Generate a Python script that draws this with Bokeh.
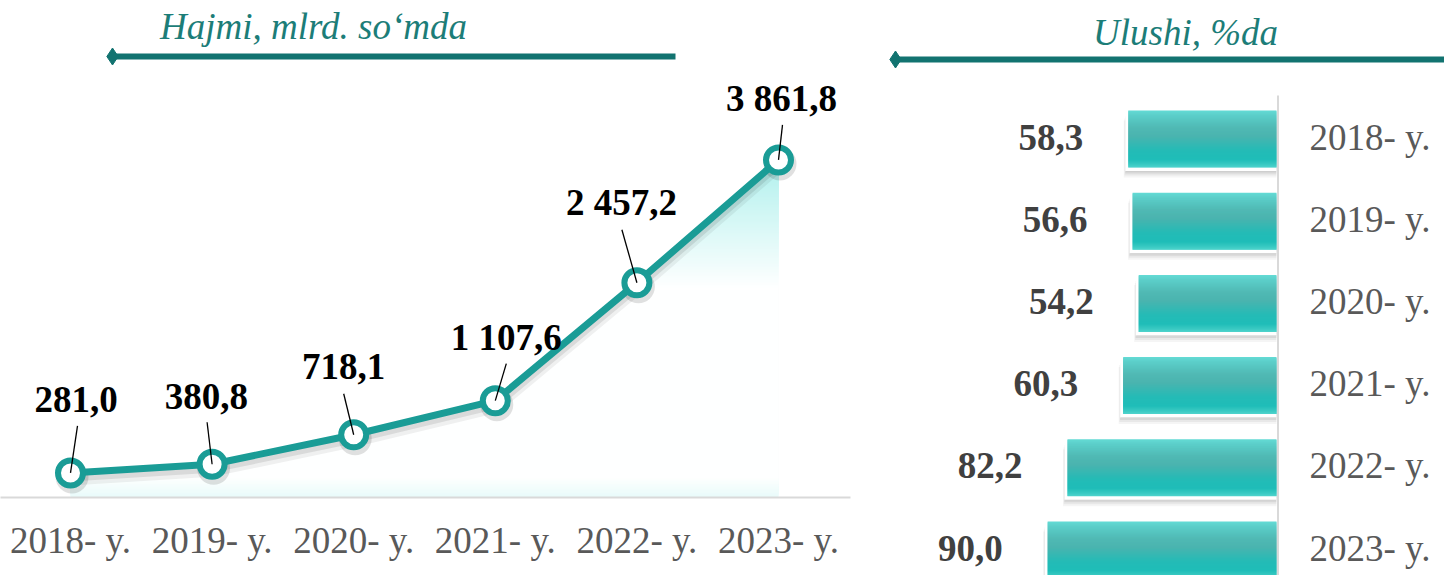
import numpy as np
from bokeh.plotting import figure
from bokeh.layouts import row
from bokeh.models import Range1d, FixedTicker
from bokeh.core.properties import value
from bokeh.embed import file_html
from bokeh.resources import INLINE

# ---------------- data ----------------
years = ["2018- y.", "2019- y.", "2020- y.", "2021- y.", "2022- y.", "2023- y."]
volume = [281.0, 380.8, 718.1, 1107.6, 2457.2, 3861.8]      # Hajmi, mlrd. so'mda
share = [58.3, 56.6, 54.2, 60.3, 82.2, 90.0]                 # Ulushi, %da
title_left = "Hajmi, mlrd. so‘mda"
title_right = "Ulushi, %da"


def fmt(v):
    return f"{v:,.1f}".replace(",", " ").replace(".", ",")


volume_labels = [fmt(v) for v in volume]
share_labels = [fmt(v) for v in share]

# ---------------- style ----------------
FONT = "Liberation Serif"
FS = "37px"
TEAL = "#1a9c96"
HEAD = "#127370"
HEAD_TXT = "#1c7d78"
TXT_UP = 14          # empirical baseline correction (px)

H = 575
# left chart geometry (px)
LW, L_FRAME_W, L_FRAME_H = 880, 850, 497
XPX = 141.6                     # px per category
YUP = 3580.8 / 313.0            # value units per px
x0 = -70.0 / XPX
xs = np.arange(len(years), dtype=float)
vol = np.array(volume)


def lx(px):   # page x -> data x (left chart)
    return x0 + px / XPX


def ly(py):   # page y -> data y (left chart)
    return (L_FRAME_H - py) * YUP


def hex2rgb(h):
    return np.array([int(h[i:i + 2], 16) for i in (1, 3, 5)], dtype=float)


def rgb2hex(c):
    return "#%02x%02x%02x" % tuple(int(round(v)) for v in c)


p = figure(width=LW, height=H, output_backend="svg", toolbar_location=None,
           x_range=Range1d(x0, x0 + L_FRAME_W / XPX),
           y_range=Range1d(0, L_FRAME_H * YUP),
           y_axis_location=None,
           min_border_left=0, min_border_right=LW - L_FRAME_W,
           min_border_top=0, min_border_bottom=H - L_FRAME_H)
p.outline_line_color = None
p.grid.visible = False
p.background_fill_color = "white"
p.border_fill_color = "white"

ax = p.xaxis[0]
ax.ticker = FixedTicker(ticks=list(range(len(years))))
ax.major_label_overrides = {i: y for i, y in enumerate(years)}
ax.axis_line_color = "#d9d9d9"
ax.axis_line_width = 2
ax.major_tick_line_color = None
ax.minor_tick_line_color = None
ax.major_tick_out = 0
ax.major_label_standoff = 22
ax.major_label_text_font = FONT
ax.major_label_text_font_size = FS
ax.major_label_text_color = "#595959"

# area fill with a vertical fade: nested opaque layers, each starting at a
# higher level, so every layer only shows in its own thin horizontal strip
CYAN = hex2rgb("#b9f2ef")
WHITE = hex2rgb("#ffffff")


def cyan_strength(v):
    return float(np.interp(v, [0, 230, 2380, 3680, 9999], [0.32, 0.0, 0.0, 1.0, 1.0]))


levels = list(np.arange(0, 230, 1.5 * YUP)) + list(np.arange(2380, vol.max(), 1.5 * YUP))
for a in levels:
    # polyline vertices plus the exact points where it crosses level a
    px_ = list(xs)
    for k in range(len(xs) - 1):
        v0, v1 = vol[k], vol[k + 1]
        if (v0 - a) * (v1 - a) < 0:
            px_.append(xs[k] + (a - v0) / (v1 - v0))
    px_ = np.array(sorted(px_))
    top = np.maximum(np.interp(px_, xs, vol), a)
    s = cyan_strength(a)
    p.varea(x=px_, y1=a, y2=top, fill_color=rgb2hex(WHITE * (1 - s) + CYAN * s))

# shadows under the line and markers
p.line(xs, vol - 6 * YUP, line_color="black", line_alpha=0.06, line_width=13)
p.line(xs, vol - 4 * YUP, line_color="black", line_alpha=0.09, line_width=9)
p.scatter(xs + 1.5 / XPX, vol - 4 * YUP, size=33, fill_color="black",
          fill_alpha=0.12, line_color=None)

p.line(xs, vol, line_color=TEAL, line_width=7)
p.scatter(xs, vol, size=25, fill_color="white", line_color=TEAL, line_width=6)

# leader lines and value labels
lead_dx = np.array([7, -5, -10, 11, -15, 4])
lead_dy = np.array([47, 42, 41, 37, 53, 35])
p.segment(x0=xs + lead_dx / XPX, y0=vol + lead_dy * YUP, x1=xs, y1=vol,
          line_color="black", line_width=1.3)
lab_dx = np.array([5.5, -5.7, -10, 11, -15.5, 3])
lab_dy = np.array([59.4, 53.7, 54.6, 49, 66, 47.3])
p.text(x=xs + lab_dx / XPX, y=vol + (lab_dy + TXT_UP) * YUP, text=volume_labels,
       text_font=value(FONT), text_font_size=value(FS), text_font_style="bold",
       text_color="black", text_align="center", text_baseline="alphabetic")

# header
p.segment(x0=[lx(112)], y0=[ly(56)], x1=[lx(675)], y1=[ly(56)],
          line_color=HEAD, line_width=6)
p.scatter([lx(112)], [ly(56)], marker="diamond", size=17,
          fill_color=HEAD, line_color=HEAD)
p.text(x=[lx(313)], y=[ly(40 - TXT_UP)], text=[title_left], text_font=value(FONT),
       text_font_size=value(FS), text_font_style="italic", text_color=HEAD_TXT,
       text_align="center", text_baseline="alphabetic")

# ---------------- right chart ----------------
RW = 564
XB = 2.543      # px per percent
YB = 82.2       # px per row
ROW0 = 138.5    # page y of first row centre
ZERO = 1276     # page x of bar base
LEFT_EDGE = LW


def rx(px):
    return (ZERO - px) / XB


def ry(py):
    return (py - ROW0) / YB


q = figure(width=RW, height=H, output_backend="svg", toolbar_location=None,
           x_range=Range1d(rx(LEFT_EDGE), rx(LEFT_EDGE + RW)),
           y_range=Range1d(ry(H), ry(0)),
           x_axis_location=None, y_axis_location=None, min_border=0)
q.outline_line_color = None
q.grid.visible = False
q.background_fill_color = "white"
q.border_fill_color = "white"

for fig in (p, q):
    if "frame_align" in fig.properties():
        fig.frame_align = False

idx = np.arange(len(share), dtype=float)
shr = np.array(share)
NPX = 57
BH = NPX / YB

# soft shadows below/left of each bar
for off, a in [(2, 0.08), (4, 0.08), (6, 0.07), (8, 0.05), (10, 0.04)]:
    q.hbar(y=idx + off / YB, left=0, right=shr + (1 + off * 0.35) / XB,
           height=BH, fill_color="black", fill_alpha=a, line_color=None)
# white border
q.hbar(y=idx + 0.5 / YB, left=0, right=shr + 3 / XB, height=BH + 6 / YB,
       fill_color="white", line_color=None)

# vertical gradient of each bar, drawn as overlapping 1px rows
stops_t = [0.0, 0.08, 0.3, 0.45, 0.7, 0.86, 0.95, 1.0]
stops_c = ["#64dbd5", "#5ccfca", "#50b9b4", "#4ab4af", "#24bbb6", "#1fbdb8",
           "#3bcac3", "#50d4cd"]
stops_rgb = np.array([hex2rgb(c) for c in stops_c], dtype=float)
band_y, band_r, band_c, band_h = [], [], [], []
for i in range(len(share)):
    top_px = ROW0 + YB * i - NPX / 2
    for k in range(NPX):
        t = (k + 0.5) / NPX
        rgb = [np.interp(t, stops_t, stops_rgb[:, j]) for j in range(3)]
        band_c.append(rgb2hex(rgb))
        hgt = 1.8 if k < NPX - 1 else 1.0
        band_y.append(ry(top_px + k + hgt / 2))
        band_h.append(hgt / YB)
        band_r.append(shr[i])
q.hbar(y=band_y, left=0, right=band_r, height=band_h,
       fill_color=band_c, line_color=None)

# vertical base line
q.segment(x0=[rx(1277.5)], y0=[ry(95)], x1=[rx(1277.5)], y1=[ry(H + 5)],
          line_color="#d9d9d9", line_width=2)

q.text(x=shr + 45 / XB, y=idx + (12 - TXT_UP) / YB, text=share_labels,
       text_font=value(FONT), text_font_size=value(FS), text_font_style="bold",
       text_color="#404040", text_align="right", text_baseline="alphabetic")
q.text(x=[rx(1309)] * len(years), y=idx + (12 - TXT_UP) / YB, text=years,
       text_font=value(FONT), text_font_size=value(FS),
       text_color="#595959", text_align="left", text_baseline="alphabetic")

# header
q.segment(x0=[rx(895)], y0=[ry(59)], x1=[rx(1460)], y1=[ry(59)],
          line_color=HEAD, line_width=6)
q.scatter([rx(895)], [ry(59)], marker="diamond", size=17,
          fill_color=HEAD, line_color=HEAD)
q.text(x=[rx(1185)], y=[ry(46 - TXT_UP)], text=[title_right], text_font=value(FONT),
       text_font_size=value(FS), text_font_style="italic", text_color=HEAD_TXT,
       text_align="center", text_baseline="alphabetic")

layout = row(p, q, spacing=0)
open("out.html", "w").write(file_html(layout, INLINE))
